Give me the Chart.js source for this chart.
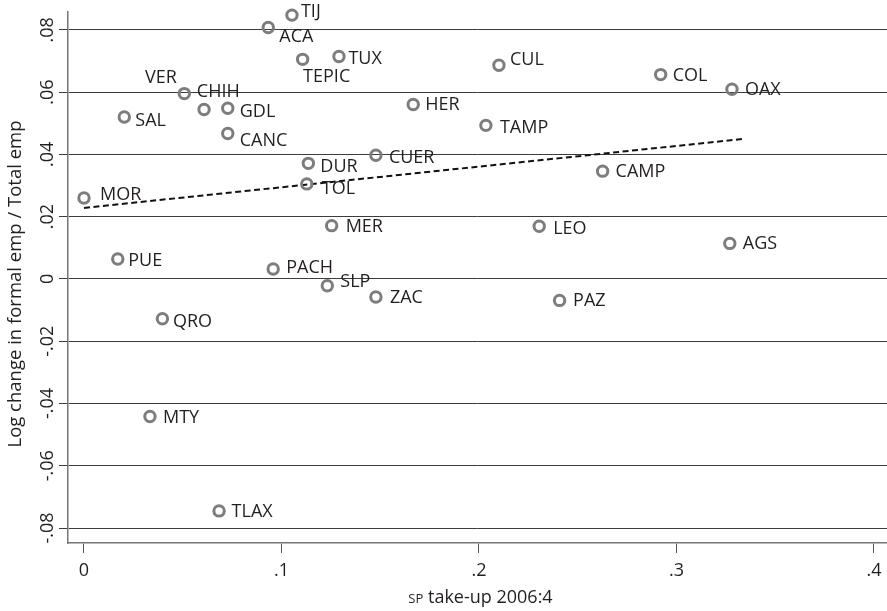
<!DOCTYPE html>
<html>
<head>
<meta charset="utf-8">
<script src="https://cdn.jsdelivr.net/npm/chart.js@4.4.1/dist/chart.umd.min.js"></script>
<style>
  html, body { margin: 0; padding: 0; background: #fff; }
  #wrap { width: 887px; height: 611px; }
</style>
</head>
<body>
<div id="wrap"><canvas id="scatter" width="887" height="611"></canvas></div>
<script>
// city codes, SP take-up (x) and log change in formal employment share (y)
const cities = ['MOR', 'SAL', 'PUE', 'VER', 'CHIH', 'GDL', 'CANC', 'QRO', 'MTY', 'TLAX',
  'ACA', 'TIJ', 'TEPIC', 'TUX', 'DUR', 'TOL', 'PACH', 'MER', 'SLP', 'CUER',
  'ZAC', 'HER', 'TAMP', 'CUL', 'LEO', 'PAZ', 'CAMP', 'COL', 'OAX', 'AGS'];
const takeUp = [0.000, 0.0204, 0.0171, 0.0608, 0.0508, 0.0728, 0.0728, 0.0397, 0.0334, 0.0684,
  0.0933, 0.1053, 0.1107, 0.1291, 0.1136, 0.1128, 0.0958, 0.1254, 0.1232, 0.1478,
  0.1478, 0.1667, 0.2035, 0.2101, 0.2305, 0.2408, 0.2626, 0.2920, 0.3281, 0.3270];
const logChange = [0.0260, 0.0520, 0.0064, 0.0544, 0.0595, 0.0548, 0.0467, -0.0128, -0.0442, -0.0745,
  0.0807, 0.0847, 0.0705, 0.0714, 0.0371, 0.0305, 0.0032, 0.0171, -0.0022, 0.0397,
  -0.0058, 0.0560, 0.0493, 0.0686, 0.0169, -0.0069, 0.0346, 0.0656, 0.0609, 0.0114];

// fitted line endpoints
const fitX = [0, 0.3348];
const fitY = [0.0228, 0.0450];

const xTicks = [0, 0.1, 0.2, 0.3, 0.4];
const xTickLabels = ['0', '.1', '.2', '.3', '.4'];
const yTicks = [-0.08, -0.06, -0.04, -0.02, 0, 0.02, 0.04, 0.06, 0.08];
const yTickLabels = ['-.08', '-.06', '-.04', '-.02', '0', '.02', '.04', '.06', '.08'];

// label placement: [dx, dy] from marker centre to the left/middle of the text
const labelOffsets = [[16, -3], [11, 3.5], [10.5, 2], [-59, -32], [12.5, -2], [12, 4], [12, 7], [10.5, 3.5], [13, 1.5], [12.5, 0.5],
  [11, 9], [9, -3], [0.5, 18], [9.5, 2], [12, 4], [15, 5], [13, -1], [14, 1.5], [13, -3.5], [13, 2.5],
  [14, 1], [12, 0], [14, 3], [11, -5], [14, 3], [13.5, 0], [13, 1], [12, 1], [13, 0.5], [13, 0]];

const FONT = '"Open Sans", "DejaVu Sans", sans-serif';
const TEXT = '#231f20';

const points = cities.map((c, i) => ({ x: takeUp[i], y: logChange[i] }));
const fitLine = fitX.map((x, i) => ({ x: x, y: fitY[i] }));

const labelsPlugin = {
  id: 'labels',
  afterDatasetsDraw(chart) {
    const { ctx, scales } = chart;
    const xs = scales.x, ys = scales.y;
    ctx.save();
    ctx.fillStyle = TEXT;
    ctx.font = '18px ' + FONT;
    ctx.textAlign = 'left';
    ctx.textBaseline = 'middle';
    cities.forEach((c, i) => {
      const px = xs.getPixelForValue(takeUp[i]);
      const py = ys.getPixelForValue(logChange[i]);
      ctx.fillText(c, px + labelOffsets[i][0], py + labelOffsets[i][1]);
    });
    ctx.restore();
  },
  afterDraw(chart) {
    const { ctx, scales, chartArea } = chart;
    const ys = scales.y;
    ctx.save();
    ctx.fillStyle = TEXT;

    // y tick labels, rotated
    ctx.font = '18px ' + FONT;
    ctx.textAlign = 'center';
    ctx.textBaseline = 'alphabetic';
    yTicks.forEach((v, i) => {
      ctx.save();
      ctx.translate(53, ys.getPixelForValue(v));
      ctx.rotate(-Math.PI / 2);
      ctx.fillText(yTickLabels[i], 0, 0);
      ctx.restore();
    });

    // y axis title
    ctx.save();
    ctx.translate(21, 284);
    ctx.rotate(-Math.PI / 2);
    ctx.font = '18.5px ' + FONT;
    ctx.fillText('Log change in formal emp / Total emp', 0, 0);
    ctx.restore();

    // x axis title with small-caps "SP"
    const small = '13px ' + FONT, big = '18px ' + FONT;
    ctx.font = small;
    const w1 = ctx.measureText('SP').width;
    ctx.font = big;
    const rest = ' take-up 2006:4';
    const w2 = ctx.measureText(rest).width;
    const cx = (chartArea.left + chartArea.right) / 2 + 3;
    let x0 = cx - (w1 + w2) / 2;
    ctx.textAlign = 'left';
    ctx.font = small;
    ctx.fillText('SP', x0, 603);
    ctx.font = big;
    ctx.fillText(rest, x0 + w1, 603);
    ctx.restore();
  }
};

new Chart(document.getElementById('scatter'), {
  type: 'scatter',
  data: {
    datasets: [
      {
        label: 'cities',
        data: points,
        pointStyle: 'circle',
        pointRadius: 5.2,
        pointBorderWidth: 3,
        pointBorderColor: '#7d7d7d',
        pointBackgroundColor: 'rgba(0,0,0,0)',
        clip: false,
      },
      {
        type: 'line',
        label: 'fit',
        data: fitLine,
        borderColor: '#111',
        borderWidth: 2,
        borderDash: [6, 3.5],
        pointRadius: 0,
        fill: false,
        tension: 0,
      },
    ],
  },
  options: {
    responsive: false,
    animation: false,
    events: [],
    devicePixelRatio: 1,
    layout: { autoPadding: false, padding: { top: 12, right: 0, left: 0, bottom: 0 } },
    plugins: {
      legend: { display: false },
      tooltip: { enabled: false },
    },
    scales: {
      x: {
        type: 'linear',
        min: -0.0081,
        max: 0.4066,
        afterBuildTicks: (axis) => { axis.ticks = xTicks.map(v => ({ value: v })); },
        afterFit: (axis) => {
          axis.height = 68;
          axis.paddingLeft = 0;
          axis.paddingRight = 0;
        },
        ticks: {
          autoSkip: false,
          maxRotation: 0,
          padding: 7,
          color: TEXT,
          font: { family: FONT, size: 18 },
          callback: (v, i) => xTickLabels[i],
        },
        grid: {
          drawOnChartArea: false,
          drawTicks: true,
          tickLength: 10,
          tickColor: '#555',
          tickWidth: 1,
        },
        border: { display: true, color: '#777', width: 1.5 },
      },
      y: {
        type: 'linear',
        min: -0.0848,
        max: 0.0857,
        afterBuildTicks: (axis) => { axis.ticks = yTicks.map(v => ({ value: v })); },
        afterFit: (axis) => {
          axis.width = 68;
          axis.paddingTop = 0;
          axis.paddingBottom = 0;
        },
        ticks: { display: false },
        grid: {
          color: '#3c3c3c',
          lineWidth: 1,
          drawTicks: true,
          tickLength: 9,
        },
        border: { display: true, color: '#777', width: 1.5 },
      },
    },
  },
  plugins: [labelsPlugin],
});
</script>
</body>
</html>
